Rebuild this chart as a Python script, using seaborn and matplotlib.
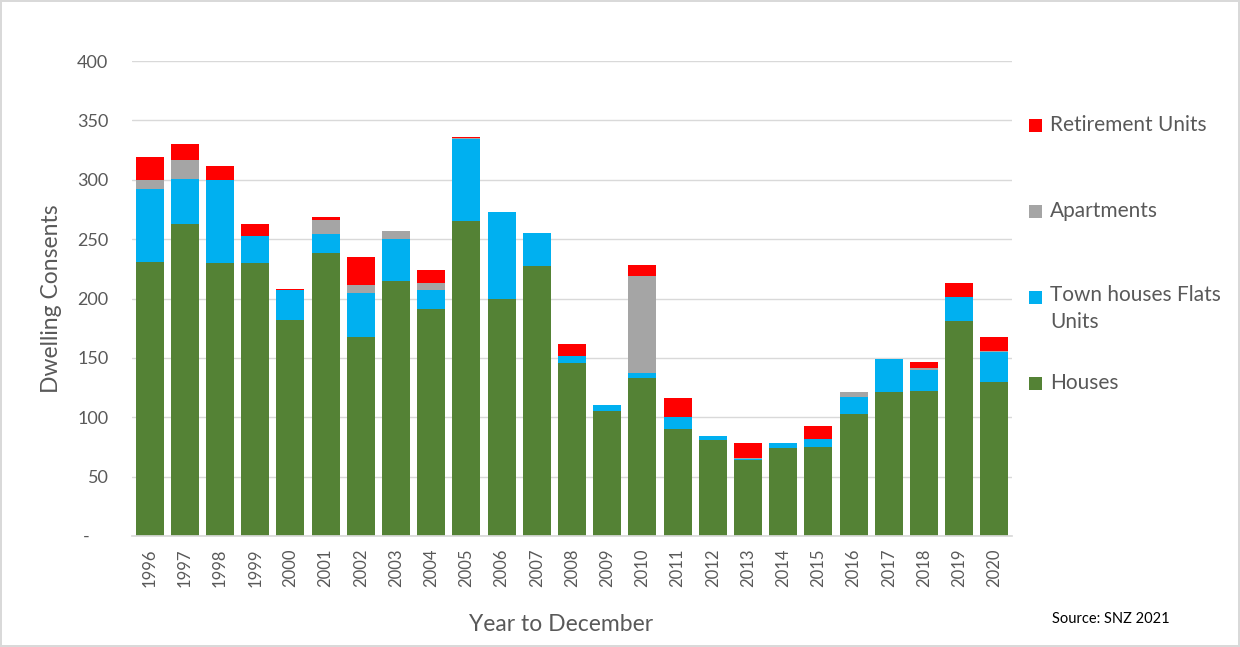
import matplotlib
matplotlib.use("Agg")
import matplotlib.pyplot as plt
import pandas as pd
import seaborn as sns
from matplotlib.patches import Rectangle

# Dwelling consents by type, year to December
years = list(range(1996, 2021))
houses = [231, 263, 230, 230, 182, 238, 168, 215, 191, 265, 200, 227, 146,
          105, 133, 90, 81, 64, 74, 75, 103, 121, 122, 181, 130]
town_houses = [61, 38, 70, 23, 25, 16, 37, 35, 16, 69, 73, 28, 6,
               5, 4, 10, 3, 1, 4, 7, 14, 28, 18, 20, 25]
apartments = [8, 16, 0, 0, 0, 12, 6, 7, 6, 1, 0, 0, 0,
              0, 82, 0, 0, 1, 0, 0, 4, 0, 1.5, 0, 1]
retirement = [19, 13, 12, 10, 1, 3, 24, 0, 11, 1, 0, 0, 10,
              0, 9, 16, 0, 12, 0, 11, 0, 0, 5, 12, 12]

series_names = ["Houses", "Town houses Flats\nUnits", "Apartments", "Retirement Units"]
series_colors = ["#548235", "#00B0F0", "#A5A5A5", "#FF0000"]

y_ticks = [0, 50, 100, 150, 200, 250, 300, 350, 400]
y_tick_labels = ["-    ", "50", "100", "150", "200", "250", "300", "350", "400"]

sns.set_theme(style="white")
plt.rcParams["font.family"] = ["Lato", "DejaVu Sans"]

df = pd.DataFrame({
    "Year": [str(y) for y in years],
    "Houses": houses,
    "Town": town_houses,
    "Apartments": apartments,
    "Retirement": retirement,
})
cols = ["Houses", "Town", "Apartments", "Retirement"]
cum = df[cols].cumsum(axis=1)
cum.insert(0, "Year", df["Year"])

text_grey = "#595959"

fig = plt.figure(figsize=(12.4, 6.47), dpi=100)
fig.patch.set_facecolor("white")
fig.patch.set_edgecolor("#d9d9d9")
fig.patch.set_linewidth(1.5)

ax = fig.add_axes([132 / 1240, 1 - 536 / 647, 880 / 1240, 475 / 647])

# Stack by drawing cumulative totals from the top layer down
for col, color in reversed(list(zip(cols, series_colors))):
    sns.barplot(data=cum, x="Year", y=col, color=color, saturation=1,
                width=0.8, errorbar=None, linewidth=0, ax=ax)

ax.set_ylim(0, 400)
ax.set_xlim(-0.5, len(years) - 0.5)
ax.set_yticks(y_ticks)
ax.set_yticklabels(y_tick_labels)
ax.yaxis.grid(True, color="#d9d9d9", linewidth=1)
ax.set_axisbelow(True)
for s in ["left", "top", "right"]:
    ax.spines[s].set_visible(False)
ax.spines["bottom"].set_color("#d9d9d9")
ax.tick_params(axis="y", length=0, pad=17, labelsize=13, labelcolor=text_grey)
ax.tick_params(axis="x", length=0, pad=9, labelsize=12, labelcolor=text_grey,
               labelrotation=90)

ax.set_ylabel("Dwelling Consents", fontsize=16.5, color=text_grey)
ax.yaxis.set_label_coords(-0.079, 0.5)
ax.set_xlabel("Year to December", fontsize=16.5, color=text_grey)
ax.xaxis.set_label_coords(0.488, -0.164)

# Legend on the right
legend_items = [
    ("Retirement Units", series_colors[3], 125),
    ("Apartments", series_colors[2], 211),
    ("Town houses Flats\nUnits", series_colors[1], 297),
    ("Houses", series_colors[0], 383),
]
for label, color, ypx in legend_items:
    fig.patches.append(Rectangle((1029 / 1240, 1 - (ypx + 7) / 647), 13 / 1240, 13 / 647,
                                 transform=fig.transFigure, facecolor=color,
                                 edgecolor="none"))
    if "\n" in label:
        fig.text(1050 / 1240, 1 - (ypx - 12) / 647, label, fontsize=15,
                 color=text_grey, va="top", ha="left", linespacing=1.45)
    else:
        fig.text(1050 / 1240, 1 - ypx / 647, label, fontsize=15,
                 color=text_grey, va="center", ha="left")

fig.text(1052 / 1240, 1 - 619 / 647, "Source: SNZ 2021", fontsize=10.5,
         color="black", ha="left", va="center")

fig.savefig("out.png", dpi=100)
